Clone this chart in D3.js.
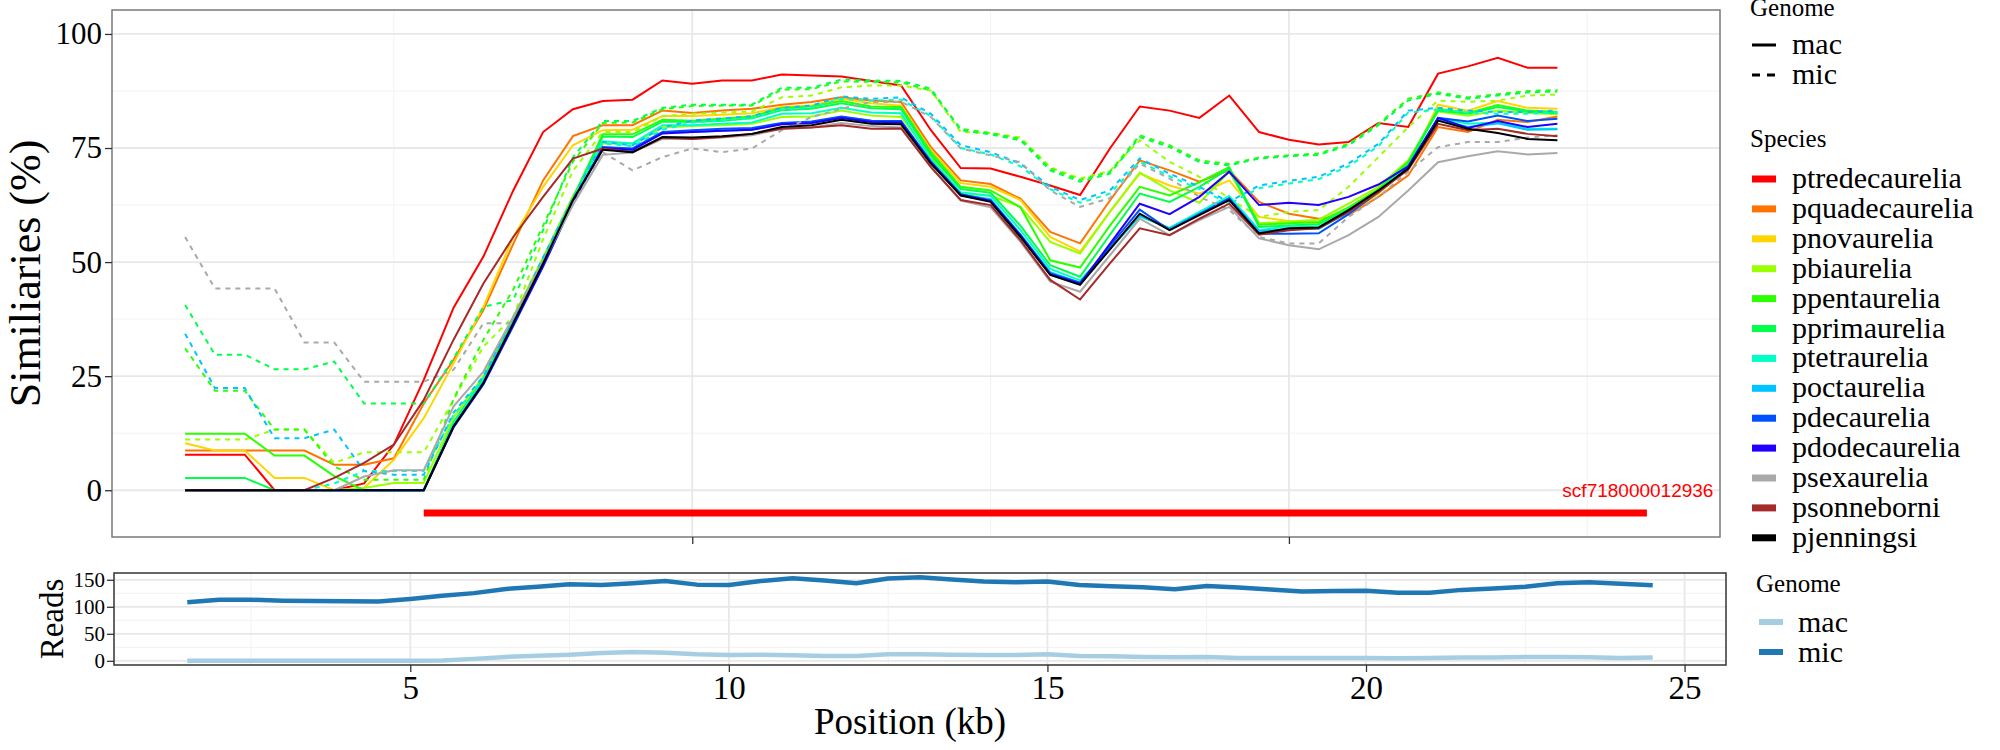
<!DOCTYPE html>
<html>
<head>
<meta charset="utf-8">
<script src="https://cdn.jsdelivr.net/npm/d3@7"></script>
<style>
  body { margin: 0; background: #fff; }
  svg { display: block; }
  .serif { font-family: "Liberation Serif", "Times New Roman", Times, "Nimbus Roman", "FreeSerif", "Noto Serif", "DejaVu Serif", serif; }
</style>
</head>
<body>
<div id="chart"></div>
<script>
// window positions along the contig (kb)
const positions = [1.5, 2, 2.5, 3, 3.5, 4, 4.5, 5, 5.5, 6, 6.5, 7, 7.5, 8, 8.5, 9, 9.5, 10, 10.5, 11, 11.5, 12,
  12.5, 13, 13.5, 14, 14.5, 15, 15.5, 16, 16.5, 17, 17.5, 18, 18.5, 19, 19.5, 20, 20.5, 21, 21.5, 22, 22.5, 23,
  23.5, 24, 24.5];

const species = ["ptredecaurelia", "pquadecaurelia", "pnovaurelia", "pbiaurelia", "ppentaurelia", "pprimaurelia",
  "ptetraurelia", "poctaurelia", "pdecaurelia", "pdodecaurelia", "psexaurelia", "psonneborni", "pjenningsi"];
const speciesColors = ["#ff0000", "#ff7400", "#ffd500", "#9bff00", "#2bff00", "#00ff4a",
  "#00ffc4", "#00c3ff", "#0050ff", "#2100ff", "#a9a9a9", "#a52a2a", "#000000"];

// similarity (%) against the mac genome
const ptredecaureliaMac = [7.8,7.8,7.8,0,0,0,1.5,10,24.2,40,51.2,65.7,78.5,83.5,85.3,85.6,89.8,89.1,89.8,89.8,91.1,90.9,90.7,89.7,88.7,78.9,70.6,70.5,68.7,66.8,64.7,74.9,84.1,83.2,81.6,86.5,78.5,76.8,75.8,76.3,80.5,79.6,91.3,92.9,94.8,92.6,92.6];
const pquadecaureliaMac = [8.7,8.7,8.7,8.7,8.7,5.6,5.6,7,19,28.6,39.5,54,67.9,77.6,80,80,83.2,82.7,83.2,83.6,84.5,85.1,86.1,85.4,85.1,75.2,67.9,67.1,63.9,56.6,54.1,63.5,72.3,70.1,67.6,70.1,63.2,60.6,59.5,60.3,64.3,69,79.6,78.5,81.2,80.7,81.9];
const pnovaureliaMac = [10.3,8.7,8.7,2.7,2.7,0,0.5,6.7,15.8,27.8,40.2,55.5,66.5,75.6,78.9,79,82,82,82.3,82.6,84,84.3,85.8,84.8,84.3,74.5,67.3,66.5,63.6,55.5,52.3,61,69.4,66.8,65,67.9,59.9,59,58.5,60.5,65,71,84.5,83.2,85.3,83.8,83.6];
const pbiaureliaMac = [0,0,0,0,0,0,0.5,1.6,1.6,16,25,38,51,64.5,76,76,79.5,79.8,80,80.3,81.8,81.9,83.2,82.1,81.8,73,65,64.6,62.1,54.4,51.9,61,69.6,65.7,63,69.8,58.5,58.9,59.3,62.8,66.5,72.3,83,82.1,83.2,82.7,82.4];
const ppentaureliaMac = [12.4,12.4,12.4,7.6,7.6,3.1,0,0,0,15,24.5,37.5,50.5,64,78,78,81.2,81,81.4,81.9,83.8,84.1,85.3,84.1,84,74.1,66.5,65.7,62,50.4,48.8,58,66.5,64.6,67.5,70.8,58.2,58.5,58.8,62,66,72,83.6,82.7,84.4,83.2,82.9];
const pprimaureliaMac = [2.7,2.7,2.7,0,0,0,0,0,0,14.8,24.2,37,50,63.8,77.5,77.4,80.8,80.7,81,81.5,83.3,83.6,84.8,83.7,83.5,73.5,66,65.2,58,49.3,46.8,56,65,63.2,66.5,70.5,57.7,58,58.3,61.6,65.7,71.5,83.2,82.5,84,83,82.6];
const ptetraureliaMac = [0,0,0,0,0,0,0,0,0,14.5,24,36.8,49.9,63.7,76.5,76,80,80,80.3,80.6,82.5,82.6,83.8,82.8,82.6,72.5,65.3,64.5,57,48.5,46,53,60,57.5,61,64.5,57,57.8,57.8,61.4,65.5,70.8,81.5,80.3,80.6,79.2,79.2];
const poctaureliaMac = [0,0,0,0,0,0,0,0,0,14.2,23.8,36.7,49.8,63.6,74.8,74.5,78.3,78.5,78.8,79,80.3,80.6,81.8,81,80.8,72,64.8,63.8,56,47.8,45.5,52.8,60.2,57.4,60.6,64,56.8,57.2,57.3,61,65.5,70.5,81.2,79.6,80.4,79,79.1];
const pdecaureliaMac = [0,0,0,0,0,0,0,0,0,13.8,23.2,36,49,63,75.2,74.9,78.5,78.9,79.2,79.4,80.5,80.8,81.9,81,80.9,72,64.9,63.5,56,47.5,45.5,53.5,61.5,57,60.5,64,56.2,56.2,56.3,60.5,65.3,70.7,81.6,80.8,82.1,80.9,81.4];
const pdodecaureliaMac = [0,0,0,0,0,0,0,0,0,13.9,23.4,36.2,49.2,63.2,75,74.6,78.2,78.5,78.8,79,80.2,80.5,81.6,80.7,80.6,71.8,64.7,63.4,55.8,47.3,45.2,54,62.8,60.5,64.3,69.8,62.5,63,62.5,64.3,67,71,81.6,79.4,80.9,79.6,80.3];
const psexaureliaMac = [0,0,0,0,0,0,3,4.4,4.4,18.4,26,38,50,62.5,73.5,74,77,77,77.3,77.8,79.2,79.5,80.5,79.8,79.5,70.8,63.5,62,54.5,45.7,43.5,51.5,59.5,55.9,59.2,62.1,55.2,53.7,52.8,55.9,59.9,65.7,71.9,73.2,74.3,73.6,73.9];
const psonneborniMac = [0,0,0,0,0,2.7,6,10,19.8,33,45.3,55.5,64.3,72.7,74.9,74.1,77.3,77,77.4,78.1,79.2,79.5,80,79.2,79.3,70.8,63.6,62.5,54.8,46.1,41.8,49.7,57.4,55.9,59.5,62.8,56,57,57.4,61,65.3,70.3,80.3,78.9,79.2,78.1,77.6];
const pjenningsiMac = [0,0,0,0,0,0,0,0,0,14,23.5,36.6,49.7,63.6,74.6,74.1,77.4,77.3,77.6,78.1,79.6,80,81.2,80.3,80.2,71.6,64.6,63.2,55.5,47.2,45,52.8,60.6,57,60.3,63.6,56.3,57.4,57.6,61.4,65.7,70.5,81,79.2,78.3,77,76.7];

// similarity (%) against the mic genome
const pbiaureliaMic = [11.1,11.1,11.1,13.3,13.3,6,8.3,8.3,8.3,19.8,31.5,38,55,70,78.5,78.5,82,82.5,82.8,83,86.1,86.5,88.3,88.7,88.7,87.6,78.5,78.3,77.3,70.8,68.3,70,76.7,72,68.7,63.9,59.9,61,61.4,66.5,73,79.6,85.4,85.1,85.4,86.5,86.7];
const ppentaureliaMic = [31.1,21.8,21.8,13.3,13.3,5.2,2.3,2.3,2.3,20,33,44,58,72,80.5,80.6,83.5,84.2,84.3,84.3,87.8,87.9,89.6,89.5,89.4,87.6,79.2,78.3,77,70.5,68,69.8,77.8,75.6,72.3,71.5,72.9,73.4,73.8,75.9,80.3,85.8,87.2,86.1,86.8,87.5,87.7];
const pprimaureliaMic = [40.6,29.7,29.7,26.5,26.5,28.2,19,19,19,28.9,40.2,41.7,57,73,80.9,80.9,83.8,84.5,84.5,84.5,88.2,88.2,90,89.8,89.7,88,78.9,78,76.7,70.1,67.6,69.4,77.4,75.2,71.9,71.2,72.7,73.2,73.5,75.6,80,85.4,86.9,85.8,86.5,87.2,87.4];
const ptetraureliaMic = [0,0,0,0,0,1.5,4.2,4.2,4.2,16.5,24.5,37,50.5,63.8,76,75.4,79,80.6,81,81.5,83.4,83.9,85.8,85.4,85.6,82,75,73.6,71,66,63,65,72,68.8,66,62.8,66.2,67.2,68.2,71,75.4,82.8,83.4,82.8,82.5,82.5,82.8];
const poctaureliaMic = [34.3,22.4,22.4,11.4,11.4,13.3,4.2,3.4,3.4,17,25,37.5,51,64,76.3,75.6,79.5,81,81.5,82,83.8,84.3,86.3,85.8,86.1,82.5,75.6,74.1,71.6,66.5,63.6,65.7,72.7,69.4,66.5,63.2,66.8,67.8,68.7,71.6,75.9,83.2,83.8,83.2,82.9,82.9,83.2];
const psexaureliaMic = [55.5,44.2,44.2,44.2,32.4,32.4,23.8,23.8,23.8,26.4,36.6,36.6,50.4,62.8,74.1,70.1,73,74.9,74.1,74.9,78.9,81.8,83.6,85.1,85.1,81.8,74.9,73.4,71.9,65.7,62.1,64,71.6,68.3,64.3,61.4,55.5,54.1,54.1,59.9,64.3,69.8,75.2,76.3,76.3,77.3,77.8];

// read depth
const readsMac = [0,0,0,0,0,0,0,0,0.5,3.6,7.2,9.6,11.4,14.5,16.3,15,12,10.8,11.4,10.2,9,9,12,12,11.4,10.8,10.8,12,9,8.4,7.2,6.6,7.2,5.4,5.4,5.4,5.4,5.4,4.8,5.4,6,6,7.2,7.2,6.6,5.4,6];
const readsMic = [108.4,113,113,111.4,110.8,110.2,109.6,114.5,120.5,125.3,133,137.3,141.6,140.4,143.4,147.6,141,140.4,147.6,153,148.8,143.4,152.4,154.8,150.6,147,145.2,147,140.4,138,136.1,132.5,138.6,135.5,132,128.3,129,129.5,126,126,131.3,133.7,137.3,143.4,145.2,142.8,139.8];

const genomes = ["mac", "mic"];
const readsColors = ["#a6cee3", "#1f78b4"];

// contig annotation
const contigName = "scf718000012936";
const contigStart = 5.5;
const contigEnd = 26;
const contigY = -5;

// tick values
const topYTicks = [0, 25, 50, 75, 100];
const topYMinor = [12.5, 37.5, 62.5, 87.5];
const topXTicks = [10, 20];
const topXMinor = [5, 15, 25];
const botXTicks = [5, 10, 15, 20, 25];
const botXMinor = [2.5, 7.5, 12.5, 17.5, 22.5];
const botYTicks = [0, 50, 100, 150];
const botYMinor = [25, 75, 125];

// table of lines for the top panel (mac then mic, per species)
const macSeries = [ptredecaureliaMac, pquadecaureliaMac, pnovaureliaMac, pbiaureliaMac, ppentaureliaMac,
  pprimaureliaMac, ptetraureliaMac, poctaureliaMac, pdecaureliaMac, pdodecaureliaMac, psexaureliaMac,
  psonneborniMac, pjenningsiMac];
const micSeries = {
  pbiaurelia: pbiaureliaMic, ppentaurelia: ppentaureliaMic, pprimaurelia: pprimaureliaMic,
  ptetraurelia: ptetraureliaMic, poctaurelia: poctaureliaMic, psexaurelia: psexaureliaMic
};
const lines = [];
species.forEach((sp, i) => {
  lines.push({ sp: sp, genome: "mac", color: speciesColors[i], values: macSeries[i] });
  if (micSeries[sp]) lines.push({ sp: sp, genome: "mic", color: speciesColors[i], values: micSeries[sp] });
});

const width = 2000, height = 750;
const topP = { left: 112, right: 1720, top: 10, bottom: 537 };
const botP = { left: 114, right: 1726, top: 573, bottom: 665 };

const svg = d3.select("#chart")
  .append("svg")
  .attr("width", width)
  .attr("height", height)
  .attr("viewBox", [0, 0, width, height])
  .style("background", "#fff");

// ggplot-like 5% expansion
const expand = (lo, hi) => [lo - (hi - lo) * 0.05, hi + (hi - lo) * 0.05];

const xTop = d3.scaleLinear().domain(expand(d3.min(positions), contigEnd)).range([topP.left, topP.right]);
const yTop = d3.scaleLinear().domain(expand(contigY, 100)).range([topP.bottom, topP.top]);
const xBot = d3.scaleLinear().domain(expand(d3.min(positions), d3.max(positions))).range([botP.left, botP.right]);
const yBot = d3.scaleLinear().domain(expand(0, d3.max(readsMic))).range([botP.bottom, botP.top]);

function grid(p, xs, ys, xMaj, xMin, yMaj, yMin) {
  const g = svg.append("g");
  g.selectAll(".ymin").data(yMin).enter().append("line")
    .attr("x1", p.left).attr("x2", p.right).attr("y1", d => ys(d)).attr("y2", d => ys(d))
    .attr("stroke", "#f2f2f2").attr("stroke-width", 1);
  g.selectAll(".xmin").data(xMin).enter().append("line")
    .attr("y1", p.top).attr("y2", p.bottom).attr("x1", d => xs(d)).attr("x2", d => xs(d))
    .attr("stroke", "#f2f2f2").attr("stroke-width", 1);
  g.selectAll(".ymaj").data(yMaj).enter().append("line")
    .attr("x1", p.left).attr("x2", p.right).attr("y1", d => ys(d)).attr("y2", d => ys(d))
    .attr("stroke", "#e8e8e8").attr("stroke-width", 1.8);
  g.selectAll(".xmaj").data(xMaj).enter().append("line")
    .attr("y1", p.top).attr("y2", p.bottom).attr("x1", d => xs(d)).attr("x2", d => xs(d))
    .attr("stroke", "#e8e8e8").attr("stroke-width", 1.8);
}
grid(topP, xTop, yTop, topXTicks, topXMinor, topYTicks, topYMinor);
grid(botP, xBot, yBot, botXTicks, botXMinor, botYTicks, botYMinor);

// top panel lines
const lineTop = d3.line().x((d, i) => xTop(positions[i])).y(d => yTop(d));
svg.append("g").selectAll("path")
  .data(lines)
  .enter()
  .append("path")
  .attr("d", d => lineTop(d.values))
  .attr("fill", "none")
  .attr("stroke", d => d.color)
  .attr("stroke-width", 2)
  .attr("stroke-dasharray", d => d.genome === "mic" ? "5,5" : null);

// contig bar + name
svg.append("line")
  .attr("x1", xTop(contigStart)).attr("x2", xTop(contigEnd))
  .attr("y1", yTop(contigY)).attr("y2", yTop(contigY))
  .attr("stroke", "#ff0000").attr("stroke-width", 7);
svg.append("text")
  .attr("x", xTop(contigEnd) - 9).attr("y", yTop(0) + 7)
  .attr("text-anchor", "middle")
  .attr("font-family", "'Liberation Sans', Arial, sans-serif")
  .attr("font-size", 19)
  .attr("fill", "#ff0000")
  .text(contigName);

// bottom panel lines
const lineBot = d3.line().x((d, i) => xBot(positions[i])).y(d => yBot(d));
svg.append("g").selectAll("path")
  .data([readsMac, readsMic])
  .enter()
  .append("path")
  .attr("d", d => lineBot(d))
  .attr("fill", "none")
  .attr("stroke", (d, i) => readsColors[i])
  .attr("stroke-width", 4.5)
  .attr("stroke-linejoin", "round");

// panel borders
svg.append("rect").attr("x", topP.left).attr("y", topP.top)
  .attr("width", topP.right - topP.left).attr("height", topP.bottom - topP.top)
  .attr("fill", "none").attr("stroke", "#7a7a7a").attr("stroke-width", 1.5);
svg.append("rect").attr("x", botP.left).attr("y", botP.top)
  .attr("width", botP.right - botP.left).attr("height", botP.bottom - botP.top)
  .attr("fill", "none").attr("stroke", "#333").attr("stroke-width", 1.5);

// axes
function styleAxis(g, size) {
  g.attr("font-family", null).attr("font-size", null).attr("class", "serif");
  g.select(".domain").remove();
  g.selectAll(".tick line").attr("stroke", "#333").attr("stroke-width", 1.3);
  g.selectAll(".tick text").attr("fill", "#000").style("font-size", size + "px");
}
svg.append("g").attr("transform", `translate(${topP.left},0)`)
  .call(d3.axisLeft(yTop).tickValues(topYTicks).tickSize(7).tickPadding(3))
  .call(g => styleAxis(g, 31));
svg.append("g").attr("transform", `translate(0,${topP.bottom})`)
  .call(d3.axisBottom(xTop).tickValues(topXTicks).tickFormat("").tickSize(7))
  .call(g => styleAxis(g, 31));
svg.append("g").attr("transform", `translate(${botP.left},0)`)
  .call(d3.axisLeft(yBot).tickValues(botYTicks).tickSize(7).tickPadding(2))
  .call(g => styleAxis(g, 21));
svg.append("g").attr("transform", `translate(0,${botP.bottom})`)
  .call(d3.axisBottom(xBot).tickValues(botXTicks).tickSize(7).tickPadding(4))
  .call(g => styleAxis(g, 33));

// axis titles
svg.append("text")
  .attr("class", "serif")
  .attr("transform", `translate(40,${(topP.top + topP.bottom) / 2}) rotate(-90)`)
  .attr("text-anchor", "middle")
  .style("font-size", "44px")
  .text("Similiaries (%)");
svg.append("text")
  .attr("class", "serif")
  .attr("transform", `translate(63,${(botP.top + botP.bottom) / 2}) rotate(-90)`)
  .attr("text-anchor", "middle")
  .style("font-size", "33px")
  .text("Reads");
svg.append("text")
  .attr("class", "serif")
  .attr("x", 910).attr("y", 734)
  .attr("text-anchor", "middle")
  .style("font-size", "37px")
  .text("Position (kb)");

// legends
const leg = svg.append("g").attr("class", "serif");
leg.append("text").attr("x", 1750).attr("y", 16).style("font-size", "25px").text("Genome");
genomes.forEach((gname, i) => {
  const cy = 45 + i * 30;
  leg.append("line").attr("x1", 1752).attr("x2", 1776).attr("y1", cy).attr("y2", cy)
    .attr("stroke", "#000").attr("stroke-width", 3)
    .attr("stroke-dasharray", gname === "mic" ? "8,7" : null);
  leg.append("text").attr("x", 1792).attr("y", cy + 9).style("font-size", "30px").text(gname);
});
leg.append("text").attr("x", 1750).attr("y", 147).style("font-size", "25px").text("Species");
species.forEach((sp, i) => {
  const cy = 179 + i * 29.9;
  leg.append("rect").attr("x", 1752).attr("y", cy - 3.5).attr("width", 24).attr("height", 7)
    .attr("fill", speciesColors[i]);
  leg.append("text").attr("x", 1792).attr("y", cy + 9).style("font-size", "30px").text(sp);
});
leg.append("text").attr("x", 1756).attr("y", 592).style("font-size", "25px").text("Genome");
genomes.forEach((gname, i) => {
  const cy = 622 + i * 30;
  leg.append("rect").attr("x", 1759).attr("y", cy - 3).attr("width", 24).attr("height", 6)
    .attr("fill", readsColors[i]);
  leg.append("text").attr("x", 1798).attr("y", cy + 10).style("font-size", "30px").text(gname);
});
</script>
</body>
</html>
